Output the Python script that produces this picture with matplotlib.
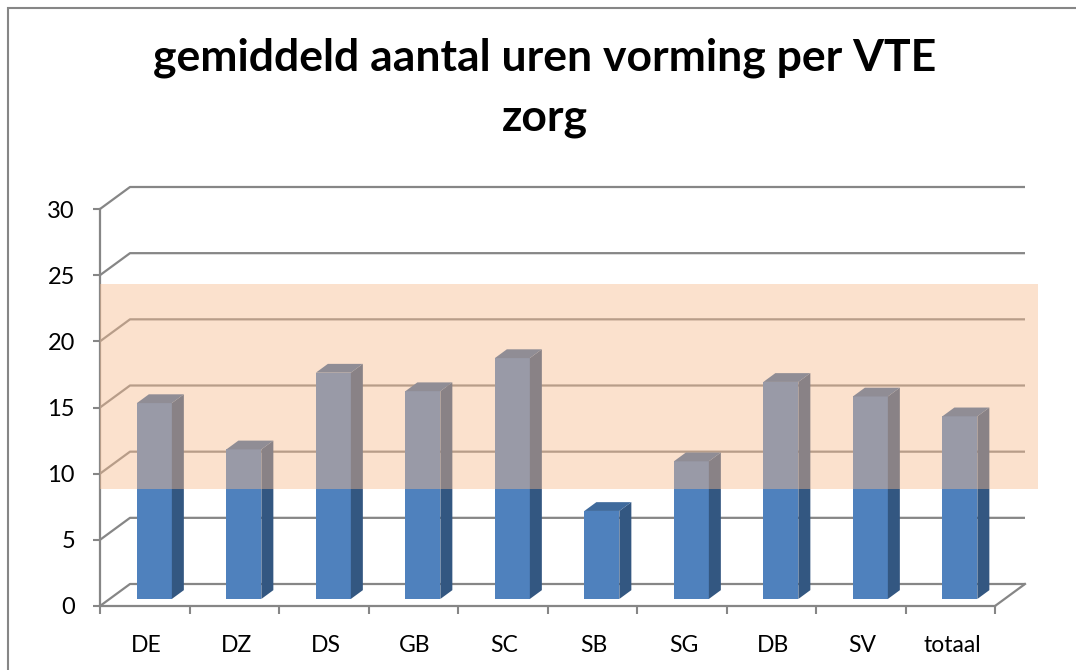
import matplotlib.pyplot as plt
from matplotlib.patches import Polygon, Rectangle
import numpy as np

categories = ['DE', 'DZ', 'DS', 'GB', 'SC', 'SB', 'SG', 'DB', 'SV', 'totaal']
values = [14.8, 11.3, 17.1, 15.7, 18.2, 6.65, 10.4, 16.4, 15.3, 13.8]
band_low, band_high = 8.84, 24.3
y_ticks = [0, 5, 10, 15, 20, 25, 30]
title = 'gemiddeld aantal uren vorming per VTE\nzorg'

plt.rcParams['font.family'] = ['Lato', 'DejaVu Sans']

W, H = 1076, 670
fig = plt.figure(figsize=(W / 100, H / 100), dpi=100)
ax = fig.add_axes([100 / W, (H - 606) / H, 895 / W, 397 / H])
ax.set_xlim(0, len(categories))
ax.set_ylim(0, 30)

grid = '#868686'
blue = '#4f81bd'
blue_side = '#335781'
blue_top = '#3f6a9c'

# depth of the pseudo 3d floor, in data units
dx = 30 / 89.5
dy = 22 / (397 / 30)
n = len(categories)

for t in y_ticks:
    ax.plot([0, dx, n + dx], [t, t + dy, t + dy], color=grid, lw=1.6,
            clip_on=False, zorder=1, solid_capstyle='butt')
ax.plot([n, n + dx], [0, dy], color=grid, lw=1.6, clip_on=False, zorder=1)

bw = 35 / 89.5
f0, f1 = 0.32, 0.72
ddx, ddy = (f1 - f0) * dx, (f1 - f0) * dy
for i, v in enumerate(values):
    x0 = i + 0.5 - bw / 2 + f0 * dx
    y0 = f0 * dy
    ax.add_patch(Rectangle((x0, y0), bw, v, fc=blue, ec='none', zorder=3, clip_on=False))
    ax.add_patch(Polygon([(x0 + bw, y0), (x0 + bw + ddx, y0 + ddy),
                          (x0 + bw + ddx, y0 + v + ddy), (x0 + bw, y0 + v)],
                         fc=blue_side, ec='none', zorder=3, clip_on=False))
    ax.add_patch(Polygon([(x0, y0 + v), (x0 + bw, y0 + v),
                          (x0 + bw + ddx, y0 + v + ddy), (x0 + ddx, y0 + v + ddy)],
                         fc=blue_top, ec='none', zorder=3, clip_on=False))

# norm band laid over the chart
ax.add_patch(Rectangle((0, band_low), n + 0.48, band_high - band_low,
                       fc='#f8bb8d', alpha=0.44, ec='none', zorder=5, clip_on=False))

for s in ['top', 'right']:
    ax.spines[s].set_visible(False)
for s in ['left', 'bottom']:
    ax.spines[s].set_color(grid)
    ax.spines[s].set_linewidth(1.6)
    ax.spines[s].set_zorder(2)

ax.set_yticks(y_ticks)
ax.set_xticks(np.arange(n + 1))
ax.set_xticklabels([])
ax.set_xticks(np.arange(n) + 0.52, minor=True)
ax.set_xticklabels(categories, minor=True)
ax.tick_params(axis='x', which='major', length=5.5, width=1.5, color=grid)
ax.tick_params(axis='x', which='minor', length=0, labelsize=16.5, pad=21)
ax.tick_params(axis='y', length=5, width=1.5, color=grid, labelsize=17, pad=13)

fig.text(545 / W, 1 - 37 / H, title, ha='center', va='top', fontsize=32,
         fontweight='bold', linespacing=1.6)

fig.add_artist(Rectangle((8 / W, -0.1), 1.2, (H - 8) / H + 0.1, transform=fig.transFigure,
                         fill=False, ec=grid, lw=1.5))

fig.savefig('out.png', dpi=100)
